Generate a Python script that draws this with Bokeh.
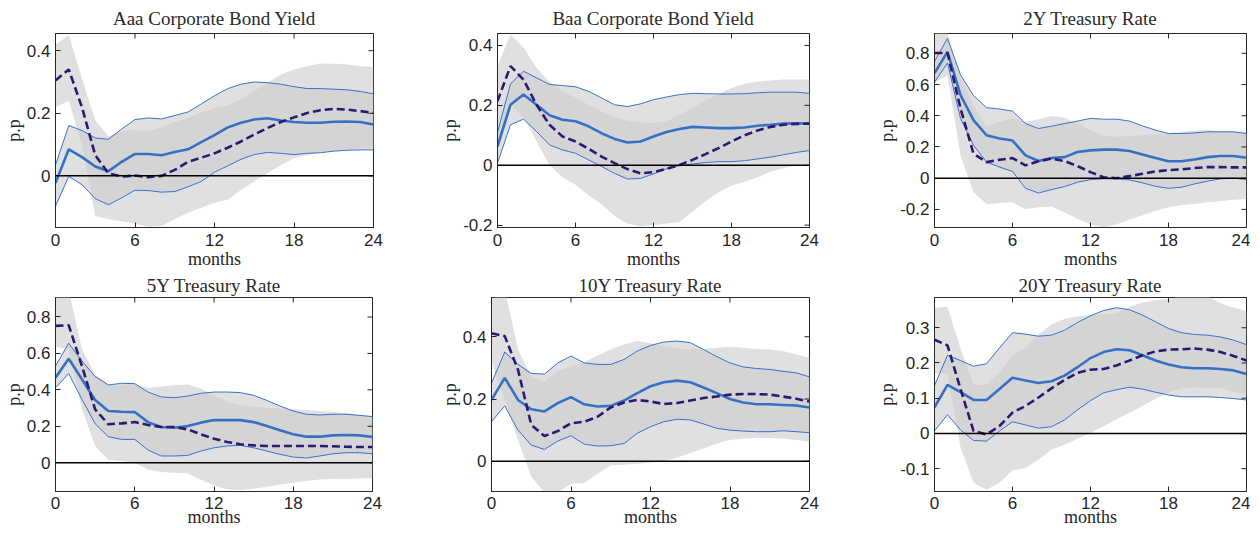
import math
from bokeh.plotting import figure
from bokeh.layouts import column, row
from bokeh.models import FixedTicker, CustomJSTickFormatter, Range1d, Span, ColumnDataSource
from bokeh.embed import file_html
from bokeh.resources import INLINE

months = list(range(25))
x_ticks = [0, 6, 12, 18, 24]

titles = ["Aaa Corporate Bond Yield", "Baa Corporate Bond Yield", "2Y Treasury Rate",
          "5Y Treasury Rate", "10Y Treasury Rate", "20Y Treasury Rate"]

# ---- Aaa ----
aaa_irf = [-0.023, 0.085, 0.06, 0.03, 0.015, 0.045, 0.07, 0.07, 0.066, 0.076, 0.085, 0.108, 0.13,
           0.155, 0.17, 0.18, 0.184, 0.177, 0.172, 0.17, 0.17, 0.173, 0.174, 0.172, 0.164]
aaa_hi = [0.035, 0.161, 0.145, 0.121, 0.117, 0.15, 0.18, 0.185, 0.182, 0.193, 0.204, 0.23, 0.256,
          0.279, 0.293, 0.3, 0.298, 0.293, 0.285, 0.279, 0.279, 0.277, 0.275, 0.27, 0.262]
aaa_lo = [-0.097, -0.002, -0.028, -0.073, -0.092, -0.07, -0.046, -0.047, -0.052, -0.05, -0.035,
          -0.018, 0.012, 0.032, 0.053, 0.068, 0.075, 0.072, 0.068, 0.072, 0.074, 0.079, 0.082,
          0.083, 0.083]
aaa_alt = [0.305, 0.34, 0.219, 0.066, 0.008, -0.002, 0.001, -0.004, 0.0, 0.019, 0.045, 0.058, 0.072,
           0.09, 0.11, 0.132, 0.153, 0.172, 0.187, 0.201, 0.21, 0.214, 0.212, 0.207, 0.201]
aaa_alt_hi = [0.419, 0.45, 0.31, 0.177, 0.127, 0.142, 0.147, 0.143, 0.156, 0.172, 0.185, 0.203,
              0.216, 0.224, 0.245, 0.272, 0.298, 0.324, 0.34, 0.35, 0.359, 0.358, 0.356, 0.35, 0.348]
aaa_alt_lo = [0.219, 0.24, 0.098, -0.128, -0.139, -0.145, -0.153, -0.163, -0.16, -0.139, -0.118,
              -0.102, -0.086, -0.076, -0.044, -0.018, 0.008, 0.035, 0.056, 0.066, 0.075, 0.082,
              0.087, 0.089, 0.089]

# ---- Baa ----
baa_irf = [0.063, 0.202, 0.236, 0.202, 0.167, 0.152, 0.147, 0.13, 0.107, 0.088, 0.076, 0.079, 0.096,
           0.111, 0.121, 0.128, 0.126, 0.124, 0.124, 0.126, 0.132, 0.135, 0.139, 0.14, 0.139]
baa_hi = [0.11, 0.272, 0.314, 0.292, 0.27, 0.266, 0.262, 0.247, 0.225, 0.202, 0.196, 0.205, 0.219,
          0.228, 0.236, 0.24, 0.239, 0.238, 0.238, 0.239, 0.242, 0.244, 0.244, 0.244, 0.24]
baa_lo = [0.007, 0.135, 0.154, 0.113, 0.068, 0.051, 0.04, 0.018, -0.004, -0.027, -0.046, -0.044,
          -0.029, -0.012, -0.001, 0.004, 0.009, 0.012, 0.012, 0.015, 0.021, 0.027, 0.035, 0.043, 0.049]
baa_alt = [0.214, 0.331, 0.286, 0.202, 0.135, 0.096, 0.079, 0.055, 0.029, 0.007, -0.013, -0.027,
           -0.023, -0.012, 0.001, 0.018, 0.037, 0.057, 0.079, 0.1, 0.116, 0.128, 0.135, 0.138, 0.139]
baa_alt_hi = [0.331, 0.437, 0.393, 0.326, 0.279, 0.247, 0.225, 0.202, 0.18, 0.161, 0.149, 0.143,
              0.141, 0.147, 0.169, 0.191, 0.216, 0.238, 0.258, 0.272, 0.279, 0.283, 0.286, 0.286, 0.286]
baa_alt_lo = [0.057, 0.2, 0.16, 0.08, 0.0, -0.04, -0.065, -0.1, -0.13, -0.17, -0.195, -0.205, -0.2,
              -0.195, -0.19, -0.155, -0.12, -0.09, -0.068, -0.055, -0.04, -0.022, -0.01, 0.0, 0.006]

# ---- 2Y ----
t2_irf = [0.673, 0.809, 0.533, 0.372, 0.275, 0.254, 0.241, 0.146, 0.11, 0.129, 0.135, 0.168, 0.178,
          0.183, 0.183, 0.174, 0.151, 0.129, 0.108, 0.108, 0.12, 0.135, 0.142, 0.142, 0.131]
t2_hi = [0.748, 0.895, 0.662, 0.529, 0.452, 0.443, 0.43, 0.35, 0.318, 0.333, 0.35, 0.366, 0.383,
         0.378, 0.378, 0.366, 0.335, 0.308, 0.286, 0.286, 0.29, 0.297, 0.297, 0.297, 0.286]
t2_lo = [0.615, 0.738, 0.383, 0.211, 0.103, 0.071, 0.043, -0.065, -0.095, -0.073, -0.054, -0.026,
         -0.009, -0.004, -0.004, -0.011, -0.03, -0.052, -0.065, -0.058, -0.037, -0.019, -0.004, 0.0,
         -0.009]
t2_alt = [0.802, 0.802, 0.447, 0.157, 0.103, 0.118, 0.129, 0.082, 0.108, 0.125, 0.11, 0.077, 0.039,
          0.006, 0.0, 0.013, 0.028, 0.043, 0.052, 0.056, 0.065, 0.071, 0.071, 0.069, 0.069]
t2_alt_hi = [0.93, 0.93, 0.64, 0.469, 0.329, 0.361, 0.383, 0.361, 0.378, 0.398, 0.389, 0.35, 0.308,
             0.271, 0.265, 0.269, 0.275, 0.28, 0.286, 0.297, 0.303, 0.308, 0.301, 0.297, 0.297]
t2_alt_lo = [0.61, 0.66, 0.146, -0.09, -0.166, -0.159, -0.155, -0.198, -0.187, -0.181, -0.219,
             -0.262, -0.295, -0.316, -0.295, -0.267, -0.237, -0.209, -0.187, -0.172, -0.166, -0.155,
             -0.148, -0.138, -0.133]

# ---- 5Y ----
t5_irf = [0.467, 0.571, 0.458, 0.344, 0.284, 0.28, 0.278, 0.223, 0.196, 0.192, 0.201, 0.22, 0.234,
          0.234, 0.234, 0.223, 0.201, 0.178, 0.156, 0.143, 0.143, 0.15, 0.152, 0.15, 0.141]
t5_hi = [0.531, 0.656, 0.559, 0.473, 0.427, 0.436, 0.434, 0.388, 0.361, 0.357, 0.366, 0.381, 0.388,
         0.388, 0.385, 0.37, 0.342, 0.311, 0.284, 0.266, 0.262, 0.266, 0.266, 0.26, 0.253]
t5_lo = [0.412, 0.489, 0.348, 0.214, 0.143, 0.128, 0.128, 0.07, 0.037, 0.037, 0.04, 0.064, 0.082,
         0.092, 0.095, 0.082, 0.064, 0.046, 0.031, 0.026, 0.037, 0.049, 0.055, 0.055, 0.049]
t5_alt = [0.751, 0.755, 0.531, 0.293, 0.211, 0.216, 0.223, 0.207, 0.196, 0.196, 0.183, 0.156, 0.132,
          0.114, 0.101, 0.095, 0.092, 0.092, 0.092, 0.092, 0.092, 0.09, 0.088, 0.086, 0.086]
t5_alt_hi = [0.95, 0.95, 0.623, 0.485, 0.43, 0.43, 0.43, 0.412, 0.418, 0.425, 0.43, 0.407, 0.37,
             0.333, 0.315, 0.308, 0.302, 0.297, 0.293, 0.289, 0.284, 0.278, 0.271, 0.264, 0.256]
t5_alt_lo = [0.637, 0.623, 0.293, 0.092, 0.015, 0.009, 0.0, -0.037, -0.051, -0.055, -0.059, -0.092,
             -0.125, -0.147, -0.15, -0.143, -0.132, -0.119, -0.11, -0.101, -0.092, -0.088, -0.088,
             -0.086, -0.082]

# ---- 10Y ----
t10_irf = [0.197, 0.268, 0.197, 0.167, 0.16, 0.187, 0.206, 0.183, 0.176, 0.178, 0.195, 0.219, 0.241,
           0.254, 0.259, 0.254, 0.237, 0.219, 0.2, 0.189, 0.183, 0.183, 0.181, 0.179, 0.173]
t10_hi = [0.251, 0.351, 0.311, 0.282, 0.28, 0.316, 0.338, 0.316, 0.311, 0.311, 0.327, 0.354, 0.372,
          0.383, 0.386, 0.381, 0.359, 0.336, 0.316, 0.303, 0.298, 0.295, 0.289, 0.284, 0.271]
t10_lo = [0.127, 0.178, 0.1, 0.052, 0.038, 0.065, 0.082, 0.055, 0.049, 0.05, 0.057, 0.09, 0.111,
          0.127, 0.135, 0.133, 0.12, 0.106, 0.1, 0.097, 0.095, 0.095, 0.098, 0.095, 0.092]
t10_alt = [0.411, 0.402, 0.294, 0.117, 0.081, 0.097, 0.122, 0.127, 0.143, 0.173, 0.189, 0.197, 0.192,
           0.184, 0.187, 0.195, 0.203, 0.208, 0.214, 0.216, 0.216, 0.214, 0.208, 0.201, 0.192]
t10_alt_hi = [0.521, 0.55, 0.359, 0.273, 0.257, 0.289, 0.305, 0.318, 0.34, 0.359, 0.375, 0.386,
              0.379, 0.37, 0.362, 0.359, 0.361, 0.365, 0.368, 0.365, 0.361, 0.359, 0.354, 0.343, 0.332]
t10_alt_lo = [0.32, 0.2, 0.068, -0.05, -0.1, -0.1, -0.072, -0.07, -0.04, -0.013, -0.011, -0.008,
              -0.005, 0.001, 0.012, 0.027, 0.041, 0.057, 0.068, 0.073, 0.075, 0.075, 0.073, 0.068,
              0.063]

# ---- 20Y ----
t20_irf = [0.074, 0.138, 0.117, 0.095, 0.095, 0.126, 0.158, 0.15, 0.143, 0.148, 0.164, 0.188, 0.214,
           0.231, 0.239, 0.236, 0.222, 0.207, 0.196, 0.188, 0.185, 0.185, 0.183, 0.179, 0.169]
t20_hi = [0.136, 0.222, 0.207, 0.191, 0.198, 0.243, 0.286, 0.282, 0.276, 0.279, 0.293, 0.315, 0.334,
          0.349, 0.357, 0.351, 0.336, 0.317, 0.298, 0.286, 0.281, 0.279, 0.274, 0.265, 0.252]
t20_lo = [0.007, 0.053, 0.01, -0.02, -0.022, 0.007, 0.033, 0.024, 0.015, 0.019, 0.038, 0.067, 0.093,
          0.115, 0.124, 0.131, 0.126, 0.117, 0.109, 0.104, 0.104, 0.104, 0.102, 0.099, 0.095]
t20_alt = [0.266, 0.25, 0.126, 0.007, -0.003, 0.021, 0.059, 0.078, 0.102, 0.128, 0.152, 0.172, 0.181,
           0.183, 0.193, 0.207, 0.222, 0.233, 0.238, 0.239, 0.241, 0.238, 0.231, 0.22, 0.207]
t20_alt_hi = [0.357, 0.36, 0.241, 0.138, 0.138, 0.174, 0.222, 0.243, 0.281, 0.309, 0.325, 0.333,
              0.336, 0.338, 0.341, 0.36, 0.372, 0.379, 0.382, 0.39, 0.39, 0.39, 0.37, 0.357, 0.348]
t20_alt_lo = [0.17, 0.17, -0.04, -0.14, -0.16, -0.14, -0.105, -0.098, -0.075, -0.046, -0.032,
              -0.015, 0.002, 0.02, 0.04, 0.059, 0.078, 0.098, 0.117, 0.128, 0.131, 0.13, 0.128, 0.12,
              0.109]

y_limits = [(-0.165, 0.455), (-0.208, 0.44), (-0.316, 0.927),
            (-0.158, 0.907), (-0.097, 0.526), (-0.165, 0.386)]
y_tick_sets = [[0, 0.2, 0.4], [-0.2, 0, 0.2, 0.4], [-0.2, 0, 0.2, 0.4, 0.6, 0.8],
               [0, 0.2, 0.4, 0.6, 0.8], [0, 0.2, 0.4], [-0.1, 0, 0.1, 0.2, 0.3]]

series = [
    (aaa_irf, aaa_hi, aaa_lo, aaa_alt, aaa_alt_hi, aaa_alt_lo),
    (baa_irf, baa_hi, baa_lo, baa_alt, baa_alt_hi, baa_alt_lo),
    (t2_irf, t2_hi, t2_lo, t2_alt, t2_alt_hi, t2_alt_lo),
    (t5_irf, t5_hi, t5_lo, t5_alt, t5_alt_hi, t5_alt_lo),
    (t10_irf, t10_hi, t10_lo, t10_alt, t10_alt_hi, t10_alt_lo),
    (t20_irf, t20_hi, t20_lo, t20_alt, t20_alt_hi, t20_alt_lo),
]

# geometry: frame_w, border left, border right
geom_x = [(318, 49, 20), (312, 104, 20), (312, 105, 4),
          (317, 49, 21), (318, 98, 20), (312, 105, 4)]
# per row: frame_h, title standoff, x tick standoff, x label standoff
geom_y = [(194, 10, 6, 0), (194, 3, 5, -5)]

AX = "#262626"
GRAY = "#cccccc"
THIN = "#3a72cc"
BLUE = "#3570c4"
NAVY = "#2c1a72"
FMT_CODE = "var s = tick.toFixed(1); if (s === '0.0' || s === '-0.0') { return '0'; } return s;"


def style_axis(ax):
    ax.major_tick_in = 5
    ax.major_tick_out = 0
    ax.minor_tick_line_color = None
    ax.axis_line_color = AX
    ax.major_tick_line_color = AX
    ax.major_label_text_font = "Liberation Sans"
    ax.major_label_text_font_size = "17px"
    ax.major_label_text_color = AX
    ax.axis_label_text_font = "Liberation Serif"
    ax.axis_label_text_font_size = "18px"
    ax.axis_label_text_font_style = "normal"
    ax.axis_label_text_color = AX


def make_panel(i):
    fw, bl, br = geom_x[i]
    fh, tso, xso, xlso = geom_y[i // 3]
    irf, hi, lo, alt, alt_hi, alt_lo = series[i]
    y0, y1 = y_limits[i]
    p = figure(frame_width=fw, frame_height=fh,
               min_border_left=bl, min_border_right=br,
               min_border_top=5, min_border_bottom=5,
               x_range=Range1d(0, 24), y_range=Range1d(y0, y1),
               output_backend="svg", toolbar_location=None, title=titles[i])
    p.grid.visible = False
    p.outline_line_color = AX
    p.background_fill_color = "white"
    p.border_fill_color = "white"
    p.title.align = "center"
    p.title.text_font = "Liberation Serif"
    p.title.text_font_size = "19px"
    p.title.text_font_style = "normal"
    p.title.text_color = "#2a2a2a"
    p.title.standoff = tso

    src = ColumnDataSource(dict(m=months, irf=irf, hi=hi, lo=lo, alt=alt,
                                alt_hi=alt_hi, alt_lo=alt_lo))
    p.varea(x="m", y1="alt_lo", y2="alt_hi", source=src, fill_color=GRAY, fill_alpha=0.6)
    p.varea(x="m", y1="lo", y2="hi", source=src, fill_color=GRAY, fill_alpha=0.6)
    p.line("m", "hi", source=src, line_color=THIN, line_width=1)
    p.line("m", "lo", source=src, line_color=THIN, line_width=1)
    p.line("m", "irf", source=src, line_color=BLUE, line_width=2.6)
    p.line("m", "alt", source=src, line_color=NAVY, line_width=2.6, line_dash="8 4")
    p.add_layout(Span(location=0, dimension="width", line_color="black", line_width=1.5))

    # inward ticks on the top and right edges of the box (half of each dash is clipped)
    p.scatter(x=x_ticks, y=[y1] * len(x_ticks), marker="dash", size=10, angle=math.pi / 2,
              line_color=AX, line_width=1)
    p.scatter(x=[24] * len(y_tick_sets[i]), y=y_tick_sets[i], marker="dash", size=10,
              line_color=AX, line_width=1)

    xa = p.xaxis[0]
    ya = p.yaxis[0]
    style_axis(xa)
    style_axis(ya)
    xa.ticker = FixedTicker(ticks=x_ticks)
    ya.ticker = FixedTicker(ticks=y_tick_sets[i])
    ya.formatter = CustomJSTickFormatter(code=FMT_CODE)
    xa.axis_label = "months"
    ya.axis_label = "p.p"
    xa.major_label_standoff = xso
    xa.axis_label_standoff = xlso
    ya.major_label_standoff = 5
    ya.axis_label_standoff = 0
    return p


figs = [make_panel(i) for i in range(6)]
layout = column(row(*figs[:3]), row(*figs[3:]))
open("out.html", "w").write(file_html(layout, INLINE))
